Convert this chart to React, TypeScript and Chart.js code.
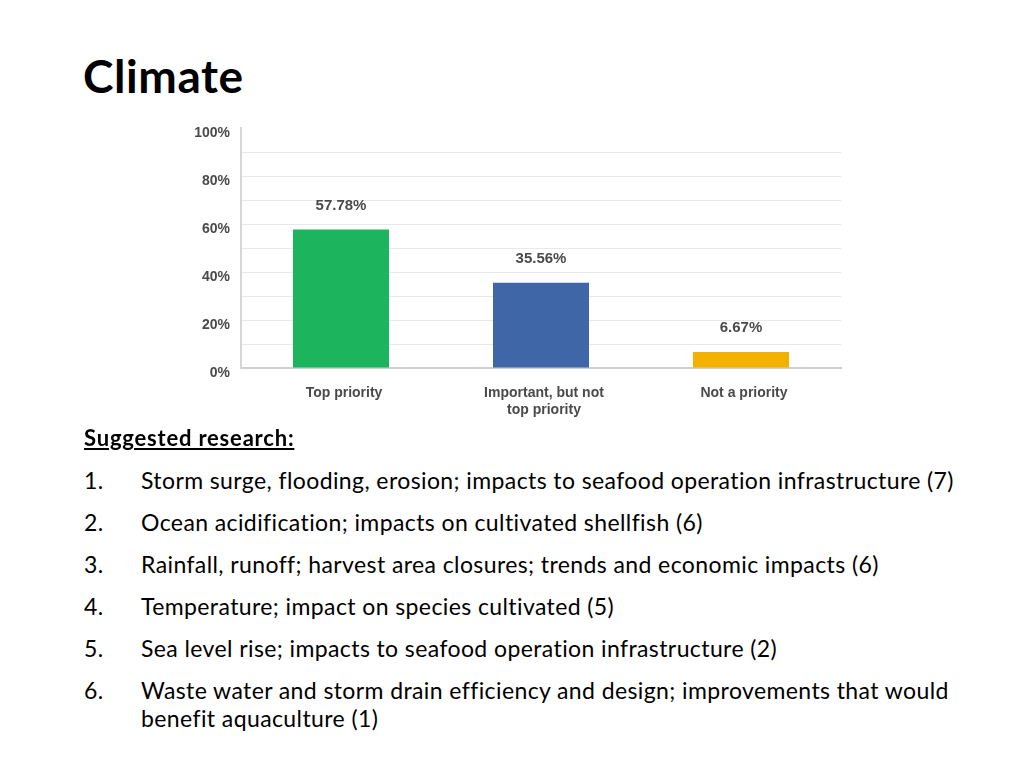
import React, { useEffect, useRef } from "react";
import { Chart, registerables } from "chart.js";

Chart.register(...registerables);

const categories: (string | string[])[] = ["Top priority", ["Important, but not", "top priority"], "Not a priority"];
const values: number[] = [57.78, 35.56, 6.67];
const valueLabels: string[] = ["57.78%", "35.56%", "6.67%"];
const barColors: string[] = ["#1cb45c", "#3f66a7", "#f4b200"];
const researchItems: string[][] = [
  ["Storm surge, flooding, erosion; impacts to seafood operation infrastructure (7)"],
  ["Ocean acidification; impacts on cultivated shellfish (6)"],
  ["Rainfall, runoff; harvest area closures; trends and economic impacts (6)"],
  ["Temperature; impact on species cultivated (5)"],
  ["Sea level rise; impacts to seafood operation infrastructure (2)"],
  ["Waste water and storm drain efficiency and design; improvements that would", "benefit aquaculture (1)"],
];

const CHART_FONT = "'Liberation Sans', Arial, sans-serif";
const TEXT_FONT = "Lato, 'Open Sans', sans-serif";
const CHART_TEXT = "#4a4a4a";

const valueLabelPlugin = {
  id: "valueLabels",
  afterDatasetsDraw(chart: any) {
    const ctx = chart.ctx;
    const meta = chart.getDatasetMeta(0);
    ctx.save();
    ctx.font = `bold 15px ${CHART_FONT}`;
    ctx.fillStyle = CHART_TEXT;
    ctx.textAlign = "center";
    ctx.textBaseline = "middle";
    meta.data.forEach((el: any, i: number) => {
      ctx.fillText(valueLabels[i], el.x, el.y - 24);
    });
    ctx.restore();
  },
};

function BarChart() {
  const ref = useRef<HTMLCanvasElement | null>(null);
  useEffect(() => {
    if (!ref.current) return;
    const chart = new Chart(ref.current, {
      type: "bar",
      data: {
        labels: categories as any,
        datasets: [
          {
            data: values,
            backgroundColor: barColors,
            barPercentage: 0.48,
            categoryPercentage: 1,
          },
        ],
      },
      options: {
        animation: false,
        responsive: false,
        maintainAspectRatio: false,
        layout: { padding: { top: 10, right: 9, left: 0, bottom: 0 } },
        plugins: { legend: { display: false }, tooltip: { enabled: false } },
        scales: {
          x: {
            grid: { display: false, drawTicks: false },
            border: { display: true, color: "#cfcfcf", width: 2 },
            ticks: {
              color: CHART_TEXT,
              font: { family: CHART_FONT, size: 14, weight: "bold", lineHeight: 1.22 },
              padding: 17,
              labelOffset: 3,
              maxRotation: 0,
              autoSkip: false,
            },
            afterFit(scale: any) {
              scale.height = 60;
            },
          },
          y: {
            min: 0,
            max: 100,
            grid: {
              drawTicks: false,
              color: (c: any) => (c.tick && (c.tick.value === 100 || c.tick.value === 0) ? "rgba(0,0,0,0)" : "#e9e9e9"),
              lineWidth: 1,
            },
            border: { display: true, color: "#d6d6d6", width: 2 },
            ticks: {
              stepSize: 10,
              color: CHART_TEXT,
              font: { family: CHART_FONT, size: 14, weight: "bold" },
              padding: 11,
              labelOffset: 5,
              callback: (v: any) => (Number(v) % 20 === 0 ? `${v}%` : ""),
            },
            afterFit(scale: any) {
              scale.width = 56;
            },
          },
        },
      },
      plugins: [valueLabelPlugin],
    });
    return () => chart.destroy();
  }, []);
  return <canvas ref={ref} width={665} height={319} style={{ width: 665, height: 319, display: "block" }} />;
}

export default function App() {
  return (
    <div
      style={{
        position: "absolute",
        left: 0,
        top: 0,
        width: 1024,
        height: 768,
        background: "#ffffff",
        overflow: "hidden",
        fontFamily: TEXT_FONT,
        fontVariantLigatures: "none",
        color: "#000",
      }}
    >
      <div
        style={{
          position: "absolute",
          left: 83,
          top: 48,
          fontSize: 46,
          fontWeight: 700,
          letterSpacing: 0.6,
          lineHeight: "56px",
          whiteSpace: "nowrap",
        }}
      >
        Climate
      </div>
      <div style={{ position: "absolute", left: 185, top: 109 }}>
        <BarChart />
      </div>
      <div
        style={{
          position: "absolute",
          left: 84,
          top: 424,
          fontSize: 22,
          fontWeight: 700,
          letterSpacing: 0.8,
          lineHeight: "28px",
          textDecoration: "underline",
          whiteSpace: "nowrap",
        }}
      >
        Suggested research:
      </div>
      {researchItems.map((lines, i) => (
        <div
          key={i}
          style={{
            position: "absolute",
            left: 84,
            top: 466 + i * 42,
            fontSize: 23,
            letterSpacing: 0.4,
            lineHeight: "28px",
            whiteSpace: "nowrap",
          }}
        >
          <span style={{ position: "absolute", left: 0, top: 0 }}>{`${i + 1}.`}</span>
          <div style={{ position: "absolute", left: 57, top: 0 }}>
            {lines.map((l, j) => (
              <div key={j}>{l}</div>
            ))}
          </div>
        </div>
      ))}
    </div>
  );
}
